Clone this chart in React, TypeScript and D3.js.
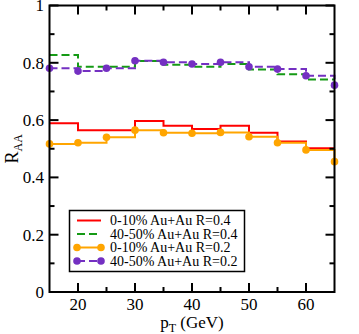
import React, { useEffect, useRef } from 'react';
import * as d3 from 'd3';

// bin edges for the R=0.4 histograms, points for R=0.2
const ptEdges = [15, 20, 25, 30, 35, 40, 45, 50, 55, 60, 65];
const central04 = [0.589, 0.565, 0.565, 0.597, 0.58, 0.569, 0.58, 0.556, 0.525, 0.502];
const peripheral04 = [0.827, 0.786, 0.786, 0.806, 0.793, 0.786, 0.796, 0.777, 0.76, 0.742];

const ptPoints = [15, 20, 25, 30, 35, 40, 45, 50, 55, 60, 65];
const central02 = [0.517, 0.521, 0.54, 0.565, 0.556, 0.554, 0.557, 0.542, 0.521, 0.496, 0.455];
const peripheral02 = [0.781, 0.771, 0.781, 0.807, 0.802, 0.796, 0.802, 0.786, 0.778, 0.755, 0.722];

const xMajor = [20, 30, 40, 50, 60];
const xMinor = [25, 35, 45, 55];
const yMajor = [0, 0.2, 0.4, 0.6, 0.8, 1];
const yMinor = [0.1, 0.3, 0.5, 0.7, 0.9];
const yTickLabels = ['0', '0.2', '0.4', '0.6', '0.8', '1'];

const legendLabels = [
  '0-10% Au+Au R=0.4',
  '40-50% Au+Au R=0.4',
  '0-10% Au+Au R=0.2',
  '40-50% Au+Au R=0.2',
];

const RED = '#ff0000';
const GREEN = '#159a15';
const ORANGE = '#ffa500';
const PURPLE = '#7430c2';

export default function App() {
  const ref = useRef<SVGSVGElement>(null);

  useEffect(() => {
    const svg = d3.select(ref.current);
    svg.selectAll('*').remove();

    const left = 49.5, right = 334.5, top = 5.5, bottom = 292;
    const x = d3.scaleLinear().domain([15, 65]).range([left, right]);
    const y = d3.scaleLinear().domain([0, 1]).range([bottom, top]);
    const font = '"Liberation Serif", "DejaVu Serif", serif';

    const step = d3.line<[number, number]>()
      .x(d => x(d[0]))
      .y(d => y(d[1]))
      .curve(d3.curveStepAfter);

    const histo = (vals: number[]) =>
      ptEdges.map((e, i) => [e, vals[Math.min(i, vals.length - 1)]] as [number, number]);
    const pts = (vals: number[]) => ptPoints.map((p, i) => [p, vals[i]] as [number, number]);

    const g = svg.append('g');

    g.append('path').attr('d', step(histo(central04)))
      .attr('fill', 'none').attr('stroke', RED).attr('stroke-width', 2);
    g.append('path').attr('d', step(histo(peripheral04)))
      .attr('fill', 'none').attr('stroke', GREEN).attr('stroke-width', 2)
      .attr('stroke-dasharray', '8,4');
    g.append('path').attr('d', step(pts(central02)))
      .attr('fill', 'none').attr('stroke', ORANGE).attr('stroke-width', 2);
    g.selectAll('.co').data(pts(central02)).enter().append('circle')
      .attr('cx', d => x(d[0])).attr('cy', d => y(d[1])).attr('r', 3.8).attr('fill', ORANGE);
    g.append('path').attr('d', step(pts(peripheral02)))
      .attr('fill', 'none').attr('stroke', PURPLE).attr('stroke-width', 2)
      .attr('stroke-dasharray', '8,4');
    g.selectAll('.pp').data(pts(peripheral02)).enter().append('circle')
      .attr('cx', d => x(d[0])).attr('cy', d => y(d[1])).attr('r', 3.8).attr('fill', PURPLE);

    // frame
    svg.append('rect')
      .attr('x', left).attr('y', top)
      .attr('width', right - left).attr('height', bottom - top)
      .attr('fill', 'none').attr('stroke', '#000').attr('stroke-width', 2);

    const ticks = svg.append('g').attr('stroke', '#000').attr('stroke-width', 2);
    const xt = (vals: number[], len: number) => {
      vals.forEach(v => {
        ticks.append('line').attr('x1', x(v)).attr('x2', x(v)).attr('y1', bottom).attr('y2', bottom - len);
        ticks.append('line').attr('x1', x(v)).attr('x2', x(v)).attr('y1', top).attr('y2', top + len);
      });
    };
    const yt = (vals: number[], len: number) => {
      vals.forEach(v => {
        ticks.append('line').attr('y1', y(v)).attr('y2', y(v)).attr('x1', left).attr('x2', left + len);
        ticks.append('line').attr('y1', y(v)).attr('y2', y(v)).attr('x1', right).attr('x2', right - len);
      });
    };
    xt(xMajor, 9);
    xt(xMinor, 5);
    yt(yMajor, 9);
    yt(yMinor, 5);

    svg.selectAll('.xl').data(xMajor).enter().append('text')
      .attr('x', d => x(d)).attr('y', 310)
      .attr('text-anchor', 'middle').attr('font-family', font).attr('font-size', 17)
      .text(d => String(d));
    svg.selectAll('.yl').data(yMajor).enter().append('text')
      .attr('x', 44).attr('y', d => y(d)).attr('dy', '0.35em')
      .attr('text-anchor', 'end').attr('font-family', font).attr('font-size', 17)
      .text((d, i) => yTickLabels[i]);

    const xl = svg.append('text').attr('x', (left + right) / 2).attr('y', 328)
      .attr('text-anchor', 'middle').attr('font-family', font).attr('font-size', 17);
    xl.append('tspan').text('p');
    xl.append('tspan').attr('font-size', 12).attr('dy', 4).text('T');
    xl.append('tspan').attr('dy', -4).text(' (GeV)');

    const yl = svg.append('text')
      .attr('transform', `translate(18,${(top + bottom) / 2}) rotate(-90)`)
      .attr('text-anchor', 'middle').attr('font-family', font).attr('font-size', 18);
    yl.append('tspan').text('R');
    yl.append('tspan').attr('font-size', 12).attr('dy', 4).text('AA');

    // legend
    const lx = 69.5, ly = 210.5, lw = 175, lh = 61, rowH = 13.5;
    const leg = svg.append('g');
    leg.append('rect').attr('x', lx).attr('y', ly).attr('width', lw).attr('height', lh)
      .attr('fill', '#fff').attr('stroke', '#000').attr('stroke-width', 1.5);
    const styles = [
      { color: RED, dash: null, marker: false },
      { color: GREEN, dash: '8,4', marker: false },
      { color: ORANGE, dash: null, marker: true },
      { color: PURPLE, dash: '8,4', marker: true },
    ];
    legendLabels.forEach((lab, i) => {
      const cy = ly + 10 + i * rowH;
      const s = styles[i];
      const ln = leg.append('line').attr('x1', 77).attr('x2', 101).attr('y1', cy).attr('y2', cy)
        .attr('stroke', s.color).attr('stroke-width', 2);
      if (s.dash) ln.attr('stroke-dasharray', s.dash);
      if (s.marker) {
        [77, 101].forEach(cx => leg.append('circle').attr('cx', cx).attr('cy', cy).attr('r', 3.8).attr('fill', s.color));
      }
      leg.append('text').attr('x', 110).attr('y', cy).attr('dy', '0.35em')
        .attr('font-family', font).attr('font-size', 14).text(lab);
    });
  }, []);

  return (
    <svg ref={ref} width={359} height={334}
      style={{ position: 'absolute', left: 0, top: 0, background: '#fff' }} />
  );
}
